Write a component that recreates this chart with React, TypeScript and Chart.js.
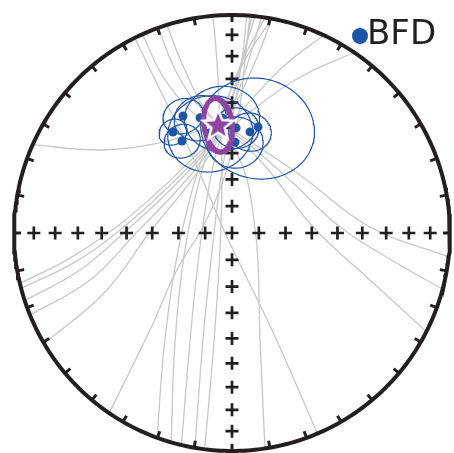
import React, { useEffect, useRef } from "react";
import { Chart, registerables } from "chart.js";
Chart.register(...registerables);

// ---- data ----
const siteLabel = "BFD";
const siteDec = [337.3, 329.7, 331.5, 344.5, 2.2, 1.9, 10.1, 13.8, 355.0, 347.6];
const siteInc = [41.4, 45.4, 50.3, 44.4, 50.1, 55.7, 51.1, 48.5, 46.0, 51.2];
const siteA95 = [7, 5, 6.5, 9, 8, 10, 7.5, 20, 13, 15];

const meanDec = 352.7;
const meanInc = 48.5;
const meanSemiInc = 10.7;
const meanSemiDec = 4.9;

// remagnetisation traces: declinations and inclinations of points along each curve
const gcDec = [
  [333.5, 333.3, 333.2, 329.8, 231.3, 157.6, 156.9],
  [335.7, 336.4, 342.6, 2.1, 75.4, 165.3, 171.3],
  [340.2, 341.1, 347.4, 4.7, 49.5, 87.5, 96.3],
  [342.6, 343.9, 349.4, 11.6, 52.7, 86.8, 100.1, 104.9],
  [293.9, 302.2, 322.5, 350.6, 16.4, 85.8, 108.8, 116.9],
  [256.6, 261.2, 272.4, 300.8, 338.4, 4.0, 22.4, 34.0],
  [255.3, 259.5, 271.5, 302.7, 342.0, 3.8, 17.5, 24.9],
  [251.9, 256.3, 271.6, 306.9, 344.2, 1.3, 8.3, 10.5],
  [247.9, 251.7, 270.6, 311.5, 347.1, 1.3, 6.2, 7.8],
  [239.5, 245.1, 270.7, 317.5, 349.1, 0, 4.1, 5.2],
  [214.3, 220.2, 236.1, 281.7, 353.1, 3.0, 4.3, 4.7],
  [200.1, 212.1, 252.5, 331.6, 352.9, 4.3, 10.5],
  [196.2, 208.0, 250.1, 334.5, 353.9, 3.6, 8.7],
  [193.4, 201.4, 242.0, 342.4, 357.0, 3.3, 6.0],
  [189.8, 195.2, 229.6, 351.0, 0, 3.3, 3.9],
  [187.2, 189.5, 215.2, 351.0, 353.9, 355.0, 355.0],
];
const gcInc = [
  [0, 27.5, 50.5, 71.4, 87.6, 50.2, 0],
  [0, 24.4, 42.7, 58.7, 81.2, 48.0, 0],
  [0, 24.4, 42.6, 52.8, 56.3, 36.8, 0],
  [0, 23.3, 44.2, 56.2, 60.2, 48.9, 25.1, 0],
  [0, 29.3, 46.5, 50.4, 59.4, 59.4, 33.6, 0],
  [0, 25.8, 45.4, 58.4, 57.2, 46.9, 25.1, 0],
  [0, 27.6, 47.4, 60.1, 57.1, 43.7, 20.3, 0],
  [0, 29.0, 50.1, 61.9, 56.8, 40.9, 18.6, 0],
  [0, 32.0, 54.1, 64.0, 56.4, 38.9, 16.7, 0],
  [0, 36.0, 59.1, 65.6, 56.3, 38.9, 16.9, 0],
  [0, 41.3, 65.1, 78.9, 68.2, 47.0, 21.5, 0],
  [0, 41.6, 68.9, 63.2, 46.7, 21.5, 0],
  [0, 43.7, 71.3, 63.9, 46.8, 21.6, 0],
  [0, 46.3, 76.3, 65.3, 47.0, 21.6, 0],
  [0, 47.9, 80.3, 66.2, 47.0, 21.6, 0],
  [0, 48.8, 82.2, 66.2, 46.8, 21.5, 0],
];

const tickAz = Array.from({ length: 36 }, (_, i) => i * 10);
const axisDecs = [0, 90, 180, 270];
const axisIncs = [10, 20, 30, 40, 50, 60, 70, 80];

// ---- geometry helpers ----
const D = Math.PI / 180;
type V = [number, number, number];
const vec = (dec: number, inc: number): V => [
  Math.cos(inc * D) * Math.cos(dec * D),
  Math.cos(inc * D) * Math.sin(dec * D),
  Math.sin(inc * D),
];
const norm = (v: V): V => {
  const l = Math.hypot(v[0], v[1], v[2]);
  return [v[0] / l, v[1] / l, v[2] / l];
};
const proj = (v: V) => {
  let [n, e, d] = v;
  if (d < 0) { n = -n; e = -e; d = -d; }
  const r = Math.sqrt(Math.max(0, 1 - d));
  const h = Math.hypot(n, e);
  if (h < 1e-12) return { x: 0, y: 0 };
  return { x: (r * e) / h, y: (r * n) / h };
};
const projDI = (dec: number, inc: number) => proj(vec(dec, inc));

const ellipse = (dec: number, inc: number, aInc: number, aDec: number) => {
  const m = vec(dec, inc);
  const ei: V = [-Math.sin(inc * D) * Math.cos(dec * D), -Math.sin(inc * D) * Math.sin(dec * D), Math.cos(inc * D)];
  const ed: V = [-Math.sin(dec * D), Math.cos(dec * D), 0];
  const ta = Math.tan(aInc * D), tb = Math.tan(aDec * D);
  const pts = [];
  for (let k = 0; k <= 120; k++) {
    const t = (k / 120) * 2 * Math.PI;
    const c = Math.cos(t) * ta, s = Math.sin(t) * tb;
    pts.push(proj(norm([m[0] + c * ei[0] + s * ed[0], m[1] + c * ei[1] + s * ed[1], m[2] + c * ei[2] + s * ed[2]])));
  }
  return pts;
};

const INK = "#231f20";
const GRAY = "#c8c8c8";
const BLUE = "#1f55a6";
const PURPLE = "#8e44a0";

const makeStar = () => {
  const c = document.createElement("canvas");
  const S = 40;
  c.width = S; c.height = S;
  const g = c.getContext("2d")!;
  const ro = 16, ri = 7;
  g.beginPath();
  for (let k = 0; k < 10; k++) {
    const r = k % 2 === 0 ? ro : ri;
    const a = -Math.PI / 2 + (k * Math.PI) / 5;
    const x = S / 2 + r * Math.cos(a), y = S / 2 + 1 + r * Math.sin(a);
    k === 0 ? g.moveTo(x, y) : g.lineTo(x, y);
  }
  g.closePath();
  g.fillStyle = PURPLE;
  g.fill();
  g.lineWidth = 2.5;
  g.strokeStyle = "#ffffff";
  g.lineJoin = "miter";
  g.stroke();
  return c;
};

const legendPlugin = {
  id: "siteLegend",
  afterDraw(chart: any) {
    const ctx = chart.ctx;
    ctx.save();
    ctx.fillStyle = BLUE;
    ctx.beginPath();
    ctx.arc(360, 36, 8, 0, Math.PI * 2);
    ctx.fill();
    ctx.fillStyle = INK;
    ctx.font = '34px "DejaVu Sans"';
    ctx.textBaseline = "middle";
    ctx.fillText(siteLabel, 367, 35);
    ctx.restore();
  },
};

export default function App() {
  const ref = useRef<HTMLCanvasElement>(null);
  useEffect(() => {
    const bottom: any[] = [];
    const line = (data: any[], color: string, width: number, extra: any = {}) => ({
      data, showLine: true, pointRadius: 0, borderColor: color, borderWidth: width, fill: false, tension: 0, ...extra,
    });
    gcDec.forEach((decs, i) =>
      bottom.push(line(decs.map((d, j) => projDI(d, gcInc[i][j])), GRAY, 1.3, { tension: 0.4 }))
    );
    const prim = [];
    for (let k = 0; k <= 360; k++) prim.push({ x: Math.sin(k * D), y: Math.cos(k * D) });
    bottom.push(line(prim, INK, 4));
    tickAz.forEach((a) => {
      bottom.push(line([{ x: Math.sin(a * D), y: Math.cos(a * D) }, { x: 0.968 * Math.sin(a * D), y: 0.968 * Math.cos(a * D) }], INK, 3, { borderCapStyle: "butt" }));
    });
    const crosses: any[] = [{ x: 0, y: 0 }];
    axisDecs.forEach((d) => axisIncs.forEach((i) => crosses.push(projDI(d, i))));
    bottom.push({ data: crosses, pointStyle: "cross", pointRadius: 6.5, borderWidth: 2.7, borderColor: INK, backgroundColor: INK });
    siteDec.forEach((d, i) => bottom.push(line(ellipse(d, siteInc[i], siteA95[i], siteA95[i]), BLUE, 1.2)));
    bottom.push({ data: siteDec.map((d, i) => projDI(d, siteInc[i])), pointStyle: "circle", pointRadius: 4.5, borderWidth: 0, backgroundColor: BLUE });
    bottom.push(line(ellipse(meanDec, meanInc, meanSemiInc, meanSemiDec), PURPLE, 5));
    bottom.push({ data: [projDI(meanDec, meanInc)], pointStyle: makeStar(), pointRadius: 16 });
    const datasets = bottom.reverse();

    const chart = new Chart(ref.current!, {
      type: "scatter",
      data: { datasets },
      options: {
        animation: false,
        responsive: false,
        events: [],
        layout: { padding: 0, autoPadding: false },
        plugins: { legend: { display: false }, tooltip: { enabled: false }, title: { display: false } },
        scales: {
          x: { type: "linear", min: -232 / 218, max: 222 / 218, display: false },
          y: { type: "linear", min: -220 / 218, max: 233 / 218, display: false },
        },
      },
      plugins: [legendPlugin],
    } as any);
    return () => chart.destroy();
  }, []);
  return (
    <div style={{ position: "fixed", left: 0, top: 0, width: 454, height: 453, background: "#fff" }}>
      <canvas ref={ref} width={454} height={453} style={{ display: "block" }} />
    </div>
  );
}
